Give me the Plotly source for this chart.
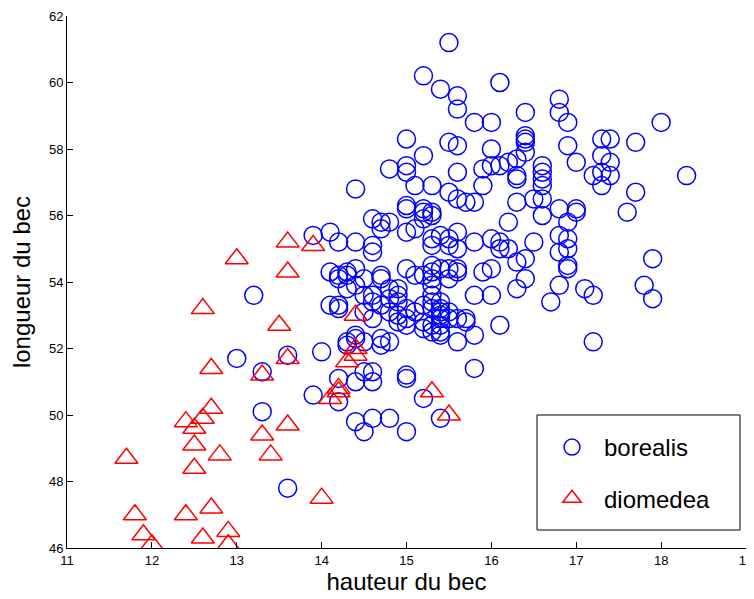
import plotly.graph_objects as go

# borealis: (hauteur du bec, longueur du bec)
bor_x = [15.5,15.2,16.1,15.4,15.6,16.8,15.6,16.4,16.8,15.8,16.0,16.9,18.0,16.4,15.0,16.4,17.3,17.4,15.5,16.4,17.7,15.6,16.9,16.0,
         16.4,15.2,17.3,16.3,17.0,16.2,17.4,15.0,16.0,16.1,16.6,14.8,15.9,15.0,15.6,16.6,17.3,16.3,17.2,17.4,18.3,16.3,16.6,
         15.1,15.3,15.9,16.6,17.3,14.4,15.5,17.7,15.6,16.5,16.6,15.7,15.8,16.3,15.0,15.0,15.2,16.8,17.0,15.2,15.3,17.0,17.6,16.6,15.3,
         14.6,15.2,14.7,14.8,16.2,16.9,14.7,15.1,13.9,14.1,15.0,15.6,15.4,16.8,15.3,15.5,16.0,16.9,14.2,14.4,15.8,16.1,16.5,14.6,15.3,15.5,15.6,16.1,16.2,16.9,
         14.6,16.8,17.9,16.4,16.3,15.3,16.9,15.0,14.4,15.4,15.5,15.6,16.0,16.9,14.1,14.3,15.3,15.6,15.9,14.2,14.3,14.7,15.1,15.2,14.2,14.5,14.7,15.3,15.5,16.4,
         14.3,14.4,14.8,14.9,15.3,16.3,16.8,17.1,17.8,14.5,14.6,13.2,15.3,15.8,16.0,17.2,14.9,14.8,17.9,14.9,14.6,15.3,15.4,16.7,14.1,14.2,14.7,15.2,14.2,15.0,15.3,15.4,14.5,14.8,15.1,15.4,15.5,
         14.6,15.0,15.4,15.5,15.6,15.7,14.9,15.4,15.2,15.7,14.9,15.0,15.3,15.4,16.1,15.2,15.3,15.4,14.4,15.4,15.8,14.4,14.7,14.3,14.5,14.8,15.6,17.2,14.3,14.7,
         14.0,13.6,13.0,15.8,13.3,14.5,14.6,15.0,14.2,15.0,14.4,14.6,13.9,15.2,14.2,13.3,14.6,14.8,15.4,14.4,14.5,15.0,13.6]
bor_y = [61.2,60.2,60.0,59.8,59.6,59.5,59.2,59.1,59.1,58.8,58.8,58.8,58.8,58.4,58.3,58.3,58.3,58.3,58.2,58.2,58.2,58.1,58.1,58.0,
         57.9,57.8,57.8,57.7,57.6,57.6,57.6,57.5,57.5,57.5,57.5,57.4,57.4,57.3,57.3,57.3,57.3,57.2,57.2,57.2,57.2,57.1,57.1,
         56.9,56.9,56.9,56.9,56.9,56.8,56.7,56.7,56.5,56.5,56.5,56.4,56.4,56.4,56.3,56.2,56.2,56.2,56.2,56.1,56.1,56.1,56.1,56.0,56.0,
         55.9,55.9,55.8,55.8,55.8,55.8,55.6,55.6,55.4,55.5,55.5,55.5,55.4,55.4,55.3,55.3,55.3,55.3,55.2,55.2,55.2,55.2,55.2,55.1,55.1,55.1,55.0,55.0,55.0,55.0,
         54.9,54.9,54.7,54.7,54.6,54.5,54.5,54.4,54.4,54.4,54.4,54.4,54.4,54.4,54.3,54.3,54.3,54.3,54.3,54.2,54.2,54.2,54.2,54.2,54.1,54.1,54.1,54.1,54.1,54.1,
         53.8,53.9,53.8,53.8,53.9,53.8,53.9,53.8,53.9,53.6,53.6,53.6,53.6,53.6,53.6,53.6,53.6,53.5,53.5,53.4,53.4,53.4,53.4,53.4,53.3,53.3,53.3,53.3,53.2,53.2,53.2,53.2,53.1,53.1,53.1,53.1,53.1,
         52.9,52.9,52.9,52.9,52.9,52.9,53.0,53.0,52.8,52.8,52.8,52.7,52.7,52.7,52.7,52.6,52.5,52.5,52.4,52.4,52.4,52.3,52.3,52.2,52.2,52.2,52.2,52.2,52.1,52.1,
         51.9,51.8,51.7,51.4,51.3,51.3,51.3,51.2,51.1,51.1,51.0,51.0,50.6,50.5,50.4,50.1,49.9,49.9,49.9,49.8,49.5,49.5,47.8]

# diomedea
dio_x = [13.6,13.9,13.0,13.6,12.6,13.5,14.4,12.7,13.6,13.3,14.4,14.4,14.3,14.2,14.2,14.1,15.3,15.5,12.7,
         12.4,12.6,12.5,12.5,13.6,13.3,12.8,13.4,11.7,12.5,14.0,11.8,12.4,12.7,11.9,12.6,12.9,12.0,12.9]
dio_y = [55.2,55.1,54.7,54.3,53.2,52.7,53.0,51.4,51.7,51.2,52.0,51.8,51.6,50.8,50.7,50.5,50.7,50.0,50.2,
         49.8,49.9,49.6,49.1,49.7,49.4,48.8,48.8,48.7,48.4,47.5,47.0,47.0,47.2,46.4,46.3,46.5,46.1,46.1]

x_ticks = [11, 12, 13, 14, 15, 16, 17, 18, 19]
y_ticks = [46, 48, 50, 52, 54, 56, 58, 60, 62]

FONT = "Liberation Sans, Arial, Helvetica, sans-serif"

fig = go.Figure()
fig.add_trace(go.Scatter(
    x=bor_x, y=bor_y, mode="markers", name="borealis", legendgroup="a",
    marker=dict(symbol="circle-open", size=18, color="rgb(0,0,255)",
                line=dict(width=1.5, color="rgb(0,0,255)")),
))
fig.add_trace(go.Scatter(
    x=dio_x, y=dio_y, mode="markers", name="diomedea", legendgroup="b",
    marker=dict(symbol="triangle-up-open", size=20, color="rgb(255,0,0)",
                line=dict(width=1.5, color="rgb(255,0,0)")),
))

axis_common = dict(
    showgrid=False, zeroline=False, showline=True, linecolor="black", linewidth=1,
    ticks="inside", ticklen=6, tickcolor="black", tickwidth=1,
    tickfont=dict(family=FONT, size=13, color="black"),
    mirror=False, ticklabeloverflow="allow",
)
fig.update_xaxes(range=[11, 19], tickvals=x_ticks, ticktext=[str(v) for v in x_ticks],
                 title=dict(text="hauteur du bec", font=dict(family=FONT, size=24, color="black"), standoff=3),
                 **axis_common)
fig.update_yaxes(range=[46, 62], tickvals=y_ticks, ticktext=[str(v) for v in y_ticks],
                 title=dict(text="longueur du bec", font=dict(family=FONT, size=24, color="black"), standoff=13),
                 **axis_common)

# legend frame (paper coordinates)
fig.add_shape(type="rect", xref="paper", yref="paper",
              x0=0.6922, x1=0.9912, y0=0.0338, y1=0.25,
              line=dict(color="black", width=1), fillcolor="white", layer="above")

fig.update_layout(
    width=754, height=599,
    margin=dict(l=59, r=16, t=8, b=59, autoexpand=False),
    paper_bgcolor="white", plot_bgcolor="white",
    font=dict(family=FONT, color="black"),
    legend=dict(
        x=0.6966, y=0.2312, xanchor="left", yanchor="top",
        bgcolor="rgba(0,0,0,0)", borderwidth=0,
        font=dict(family=FONT, size=24, color="black"),
        traceorder="grouped", tracegroupgap=17,
        itemwidth=54,
    ),
)

fig.write_html("out.html")
